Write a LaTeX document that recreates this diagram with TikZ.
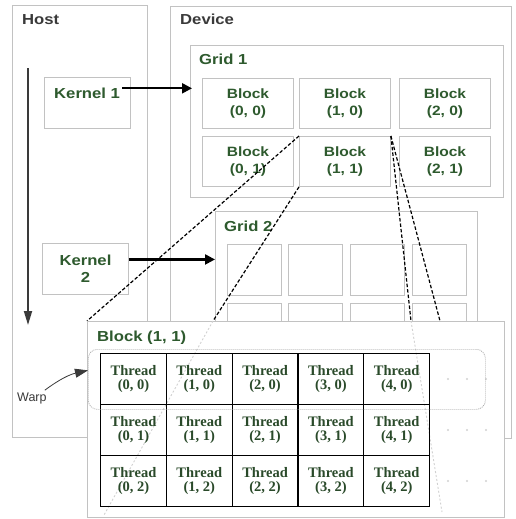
\documentclass[tikz,border=0pt]{standalone}
\usepackage{fontspec}
\setmainfont{Liberation Sans}
\newfontfamily\sfb[FakeStretch=1.15]{Liberation Sans}
\newfontfamily\thr{Liberation Serif}
\usetikzlibrary{arrows.meta}
\definecolor{lbl}{HTML}{2E5A2E}
\definecolor{tgreen}{HTML}{2A4A2A}
\definecolor{boxgray}{HTML}{C2C2C2}
\definecolor{hostc}{HTML}{3A3A3A}
\tikzset{
 box/.style={draw=boxgray, line width=0.9pt, fill=white, inner sep=0pt, anchor=north west},
 blk/.style={box, minimum width=91pt, minimum height=50pt, text=lbl, font=\sfb\bfseries\fontsize{13.5}{17.5}\selectfont, align=center},
 sq/.style={box, minimum width=54pt, minimum height=51pt},
 thread/.style={draw=black, line width=1.2pt, minimum width=65.8pt, minimum height=51pt, inner sep=0pt, font=\thr\bfseries\fontsize{14.5}{14.5}\selectfont, text=tgreen, align=center, anchor=north west},
 title/.style={anchor=base west, font=\sfb\bfseries\fontsize{14.5}{16}\selectfont, text=lbl, inner sep=0pt},
 link/.style={line width=1.2pt, dash pattern=on 3.5pt off 2pt},
 faint/.style={draw=black!18, line width=0.9pt, dash pattern=on 2pt off 2pt},
 karrow/.style={line width=2.2pt, -{Triangle[length=10pt,width=10pt]}},
 fdot/.style={fill=black!18, draw=none},
}
\begin{document}
\begin{tikzpicture}[x=1pt,y=-1pt]
\useasboundingbox (0,0) rectangle (516,519);
% Host and Device
\node[box, minimum width=135pt, minimum height=432pt] (host) at (12,5) {};
\node[title, text=hostc] (hostl) at (22,25) {Host};
\node[box, minimum width=341pt, minimum height=432pt] (dev) at (170,6) {};
\node[title, text=hostc] (devl) at (180,25) {Device};
% Grid 1
\node[box, minimum width=313pt, minimum height=152pt] (g1) at (190,45) {};
\node[title] (g1l) at (199,65) {Grid 1};
\node[blk] (b00) at (202,78) {Block\\(0, 0)};
\node[blk] (b10) at (299,78) {Block\\(1, 0)};
\node[blk] (b20) at (399,78) {Block\\(2, 0)};
\node[blk] (b01) at (202,136) {Block\\(0, 1)};
\node[blk] (b11) at (299,136) {Block\\(1, 1)};
\node[blk] (b21) at (399,136) {Block\\(2, 1)};
% Grid 2
\node[box, minimum width=262pt, minimum height=200pt] (g2) at (215,211) {};
\node[title] (g2l) at (224,231) {Grid 2};
\foreach \x/\n in {227/a,288/b,350/c,412/d}{
  \node[sq] (s1\n) at (\x,244) {};
  \node[sq] (s2\n) at (\x,303) {};
}
% Kernels
\node[box, minimum width=86pt, minimum height=51pt] (k1) at (44,77) {};
\node[title] (k1l) at (54,98) {Kernel 1};
\node[box, minimum width=86pt, minimum height=51pt, align=center, text=lbl, font=\sfb\bfseries\fontsize{14.5}{17}\selectfont] (k2) at (42,243) {Kernel\\2};
\draw[karrow] ([xshift=2pt,yshift=4.5pt]k1l.east) -- ([xshift=2pt,yshift=4.5pt]k1l.east -| g1.west);
\draw[karrow] ([yshift=9.5pt]k2.east) -- ([yshift=9.5pt]k2.east -| g2.west);
\coordinate (hs) at (28,68);
\coordinate (he) at (28,325);
\draw[line width=1.8pt, draw=hostc, -{Triangle[length=14pt,width=8pt]}] (hs) -- (he);
% zoom lines
\coordinate (l2e) at (213,321);
\coordinate (l3e) at (411,321);
\coordinate (l4e) at (440,321);
\draw[link] (b11.north west) -- (87,321);
\draw[link] (b11.south west) -- (l2e);
\draw[link] (b11.north east) -- (l3e);
\draw[link] (b11.north east) -- (l4e);
% Block (1,1) detail
\node[box, minimum width=417pt, minimum height=196pt] (big) at (87,321) {};
\node[title] (bigl) at (97,341) {Block (1, 1)};
\coordinate (f2e) at (104,515);
\coordinate (f3e) at (442,512);
\draw[faint] (l2e) -- (f2e);
\draw[faint] (l3e) -- (f3e);
\foreach \c in {0,...,4}{
  \foreach \r in {0,1,2}{
    \node[thread] (t\c\r) at ({100+65.8*\c},{353+51*\r}) {Thread\\(\c, \r)};
  }
}
\foreach \r/\y in {0/379,1/430,2/481}{
  \foreach \x in {448,467,486}{
    \fill[fdot] (\x,\y) circle (1.1pt);
  }
}
\node[draw=black!35, line width=0.7pt, dash pattern=on 1pt off 1pt, rounded corners=9pt, minimum width=397pt, minimum height=60pt, anchor=north west, inner sep=0pt] (wbox) at (88,349) {};
\node[anchor=base west, inner sep=0pt, font=\fontsize{12.5}{14}\selectfont, text=hostc] (warp) at (17,401) {Warp};
\draw[line width=0.8pt, draw=hostc, -{Triangle[length=13pt,width=9pt]}] ([xshift=-2pt,yshift=2pt]warp.north east) to[bend left=12] ([yshift=9pt]wbox.west);
\end{tikzpicture}
\end{document}
